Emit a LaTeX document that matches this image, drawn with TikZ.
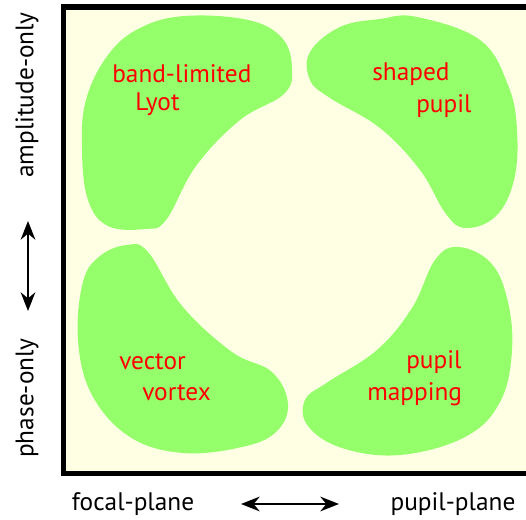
\documentclass[tikz,border=0pt]{standalone}
\usepackage{fontspec}
\setmainfont{PT Sans}
\usetikzlibrary{arrows.meta}
\definecolor{cream}{RGB}{255,255,228}
\definecolor{blobgreen}{RGB}{148,255,106}
\definecolor{lblred}{RGB}{255,0,0}
\tikzset{
  blob/.style={fill=blobgreen,draw=none},
  lbl/.style={text=lblred,font=\fontsize{19}{22}\selectfont,inner sep=0pt,anchor=west},
  axis/.style={text=black,font=\fontsize{19}{22}\selectfont,inner sep=0pt},
  dblarrow/.style={line width=1.6pt,{Stealth[length=14pt,width=11pt,inset=4.5pt]}-{Stealth[length=14pt,width=11pt,inset=4.5pt]}}
}
\begin{document}
\begin{tikzpicture}[x=0.75pt,y=-0.75pt]
\useasboundingbox (0,0) rectangle (526,520);
\fill[white] (0,0) rectangle (526,520);
\begin{scope}
\clip (0,0) rectangle (526,520);
\draw[fill=cream,line width=3.8pt] (63.5,7) rectangle (540,473.5);
\end{scope}
% blobs
\fill[blob] plot[smooth cycle,tension=0.65] coordinates {(185,16) (248,20) (282,38) (292,68) (284,94) (240,120) (196,166) (166,220) (145,229) (108,226) (88,200) (82,150) (86,100) (108,55) (140,28)};
\fill[blob] plot[smooth cycle,tension=0.65] coordinates {(417,17) (480,40) (508,85) (517,130) (514,180) (496,216) (466,228) (446,214) (420,170) (380,128) (330,98) (310,80) (310,52) (340,27) (380,19)};
\fill[blob] plot[smooth cycle,tension=0.65] coordinates {(127,245) (148,252) (182,306) (232,352) (272,372) (288,404) (276,432) (242,447) (183,453) (130,437) (92,395) (78,340) (83,282) (100,256)};
\fill[blob] plot[smooth cycle,tension=0.65] coordinates {(458,247) (490,262) (507,298) (512,350) (500,402) (465,437) (400,455) (342,448) (308,426) (305,400) (328,382) (377,350) (412,308) (435,260)};
% labels
\node[lbl] (bl1) at (112,74) {band-limited};
\node[lbl] (bl2) at (135,104) {Lyot};
\node[lbl] (sp1) at (372,74) {shaped};
\node[lbl] (sp2) at (416,106) {pupil};
\node[lbl] (vv1) at (119,362) {vector};
\node[lbl] (vv2) at (142,393) {vortex};
\node[lbl] (pm1) at (406,362) {pupil};
\node[lbl] (pm2) at (367,394) {mapping};
% axes
\node[axis,rotate=90] (amp) at (27,95) {amplitude-only};
\node[axis,rotate=90] (pha) at (27,398) {phase-only};
\coordinate (vtop) at (28,221);
\coordinate (vbot) at (28,311);
\draw[dblarrow] (vtop) -- (vbot);
\node[axis] (foc) at (133,504) {focal-plane};
\node[axis] (pup) at (453,504) {pupil-plane};
\coordinate (hl) at (241,504);
\coordinate (hr) at (339,504);
\draw[dblarrow] (hl) -- (hr);
\end{tikzpicture}
\end{document}
